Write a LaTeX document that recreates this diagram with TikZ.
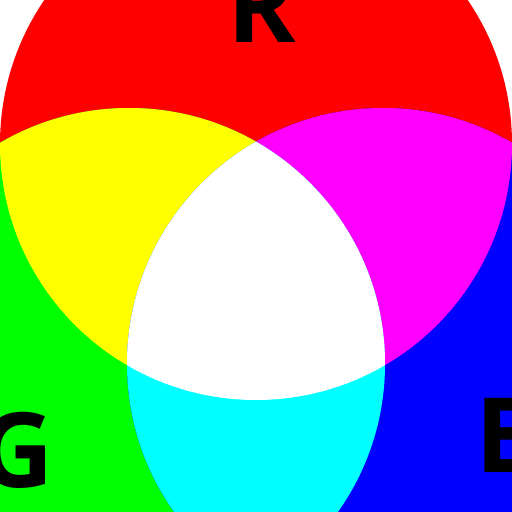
\documentclass[tikz,border=0pt]{standalone}
\usepackage{fontspec}
\setmainfont{Open Sans}
\definecolor{pureR}{RGB}{255,0,0}
\definecolor{pureG}{RGB}{0,255,0}
\definecolor{pureB}{RGB}{0,0,255}
\definecolor{pureY}{RGB}{255,255,0}
\definecolor{pureM}{RGB}{255,0,255}
\definecolor{pureC}{RGB}{0,255,255}
\tikzset{
  letter/.style={font=\fontsize{104}{104}\selectfont\bfseries, text=black, inner sep=0pt, anchor=base}
}
\begin{document}
\begin{tikzpicture}[x=1pt,y=1pt]
    \useasboundingbox (0,0) rectangle (512,512);
    \clip (0,0) rectangle (512,512);
    \coordinate (cR) at (256,368);
    \coordinate (cG) at (129,148);
    \coordinate (cB) at (383,148);
    \def\rad{256}
    \fill[white] (0,0) rectangle (512,512);
    \fill[pureR] (cR) circle (\rad);
    \fill[pureG] (cG) circle (\rad);
    \fill[pureB] (cB) circle (\rad);
    \begin{scope}
      \clip (cR) circle (\rad);
      \fill[pureY] (cG) circle (\rad);
      \fill[pureM] (cB) circle (\rad);
    \end{scope}
    \begin{scope}
      \clip (cG) circle (\rad);
      \fill[pureC] (cB) circle (\rad);
      \clip (cB) circle (\rad);
      \fill[white] (cR) circle (\rad);
    \end{scope}
    \node[letter] (R) at (262,469) {R};
    \node[letter] (G) at (16,24) {G};
    \node[letter] (B) at (510,39) {B};
  \end{tikzpicture}
\end{document}
